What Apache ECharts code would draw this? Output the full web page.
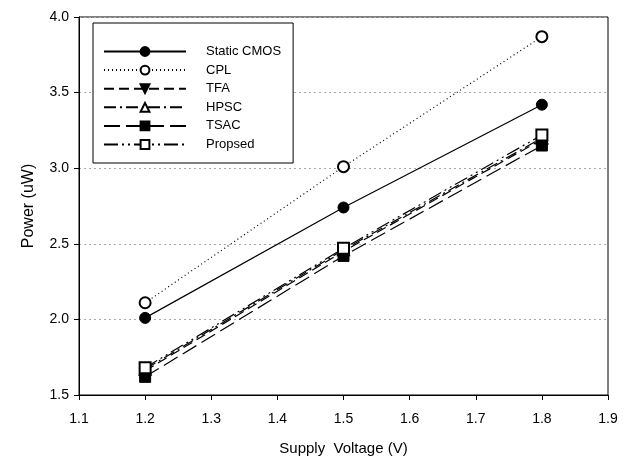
<!DOCTYPE html>
<html>
<head>
<meta charset="utf-8">
<script src="https://cdn.jsdelivr.net/npm/echarts@6/dist/echarts.min.js"></script>
<style>
  html, body { margin: 0; padding: 0; background: #fff; }
  #chart { width: 627px; height: 461px; }
</style>
</head>
<body>
<div id="chart"></div>
<script>
  // supply voltage (V)
  var voltages = [1.2, 1.5, 1.8];

  // power (uW) per design
  var staticCmos = [2.01, 2.74, 3.42];
  var cpl = [2.11, 3.01, 3.87];
  var tfa = [1.66, 2.45, 3.19];
  var hpsc = [1.67, 2.46, 3.20];
  var tsac = [1.62, 2.42, 3.15];
  var propsed = [1.68, 2.47, 3.22];

  var font = 'Liberation Sans, Arial, sans-serif';

  function pairs(ys) {
    return voltages.map(function (x, i) { return [x, ys[i]]; });
  }

  function makeSeries(name, ys, symbol, dash, rotate) {
    return {
      name: name,
      type: 'line',
      data: pairs(ys),
      symbol: symbol,
      symbolSize: 11,
      symbolRotate: rotate || 0,
      showAllSymbol: true,
      itemStyle: { color: '#000', borderColor: '#000', borderWidth: 1 },
      lineStyle: { color: '#000', width: 1.2, type: dash },
      emphasis: { disabled: true },
      z: 3
    };
  }

  var chart = echarts.init(document.getElementById('chart'));
  chart.setOption({
    animation: false,
    backgroundColor: '#fff',
    textStyle: { fontFamily: font },
    grid: {
      left: 79, right: 19, top: 17, bottom: 66,
      show: true, borderColor: '#000', borderWidth: 1
    },
    legend: {
      left: 93, top: 23,
      orient: 'vertical',
      itemWidth: 82,
      itemHeight: 11,
      itemGap: 5.6,
      padding: [22, 12, 12, 10],
      borderColor: '#000',
      borderWidth: 1,
      backgroundColor: '#fff',
      textStyle: { fontFamily: font, fontSize: 13, lineHeight: 13, color: '#000', padding: [0, 0, 0, 15] },
      data: ['Static CMOS', 'CPL', 'TFA', 'HPSC', 'TSAC', 'Propsed']
    },
    xAxis: {
      type: 'value',
      min: 1.1, max: 1.9, interval: 0.1,
      name: 'Supply  Voltage (V)',
      nameLocation: 'middle',
      nameGap: 46,
      nameTextStyle: { fontFamily: font, fontSize: 15, color: '#000' },
      axisLine: { lineStyle: { color: '#000', width: 1 } },
      axisTick: { inside: false, length: 5, lineStyle: { color: '#000' } },
      axisLabel: { fontFamily: font, fontSize: 14, color: '#000', margin: 17,
        formatter: function (v) { return v.toFixed(1); } },
      splitLine: { show: false }
    },
    yAxis: {
      type: 'value',
      min: 1.5, max: 4.0, interval: 0.5,
      name: 'Power (uW)',
      nameLocation: 'middle',
      nameGap: 42,
      nameTextStyle: { fontFamily: font, fontSize: 16, color: '#000' },
      axisLine: { lineStyle: { color: '#000', width: 1 } },
      axisTick: { inside: false, length: 5, lineStyle: { color: '#000' } },
      axisLabel: { fontFamily: font, fontSize: 14, color: '#000', margin: 10,
        formatter: function (v) { return v.toFixed(1); } },
      splitLine: { show: true, lineStyle: { color: '#aaa', type: [2, 3], width: 1 } }
    },
    series: [
      makeSeries('Static CMOS', staticCmos, 'circle', 'solid'),
      makeSeries('CPL', cpl, 'emptyCircle', [1, 3]),
      makeSeries('TFA', tfa, 'triangle', [10, 5], 180),
      makeSeries('HPSC', hpsc, 'emptyTriangle', [12, 4, 2, 4]),
      makeSeries('TSAC', tsac, 'rect', [16, 6]),
      makeSeries('Propsed', propsed, 'emptyRect', [14, 4, 2, 4, 2, 4])
    ]
  });
</script>
</body>
</html>
